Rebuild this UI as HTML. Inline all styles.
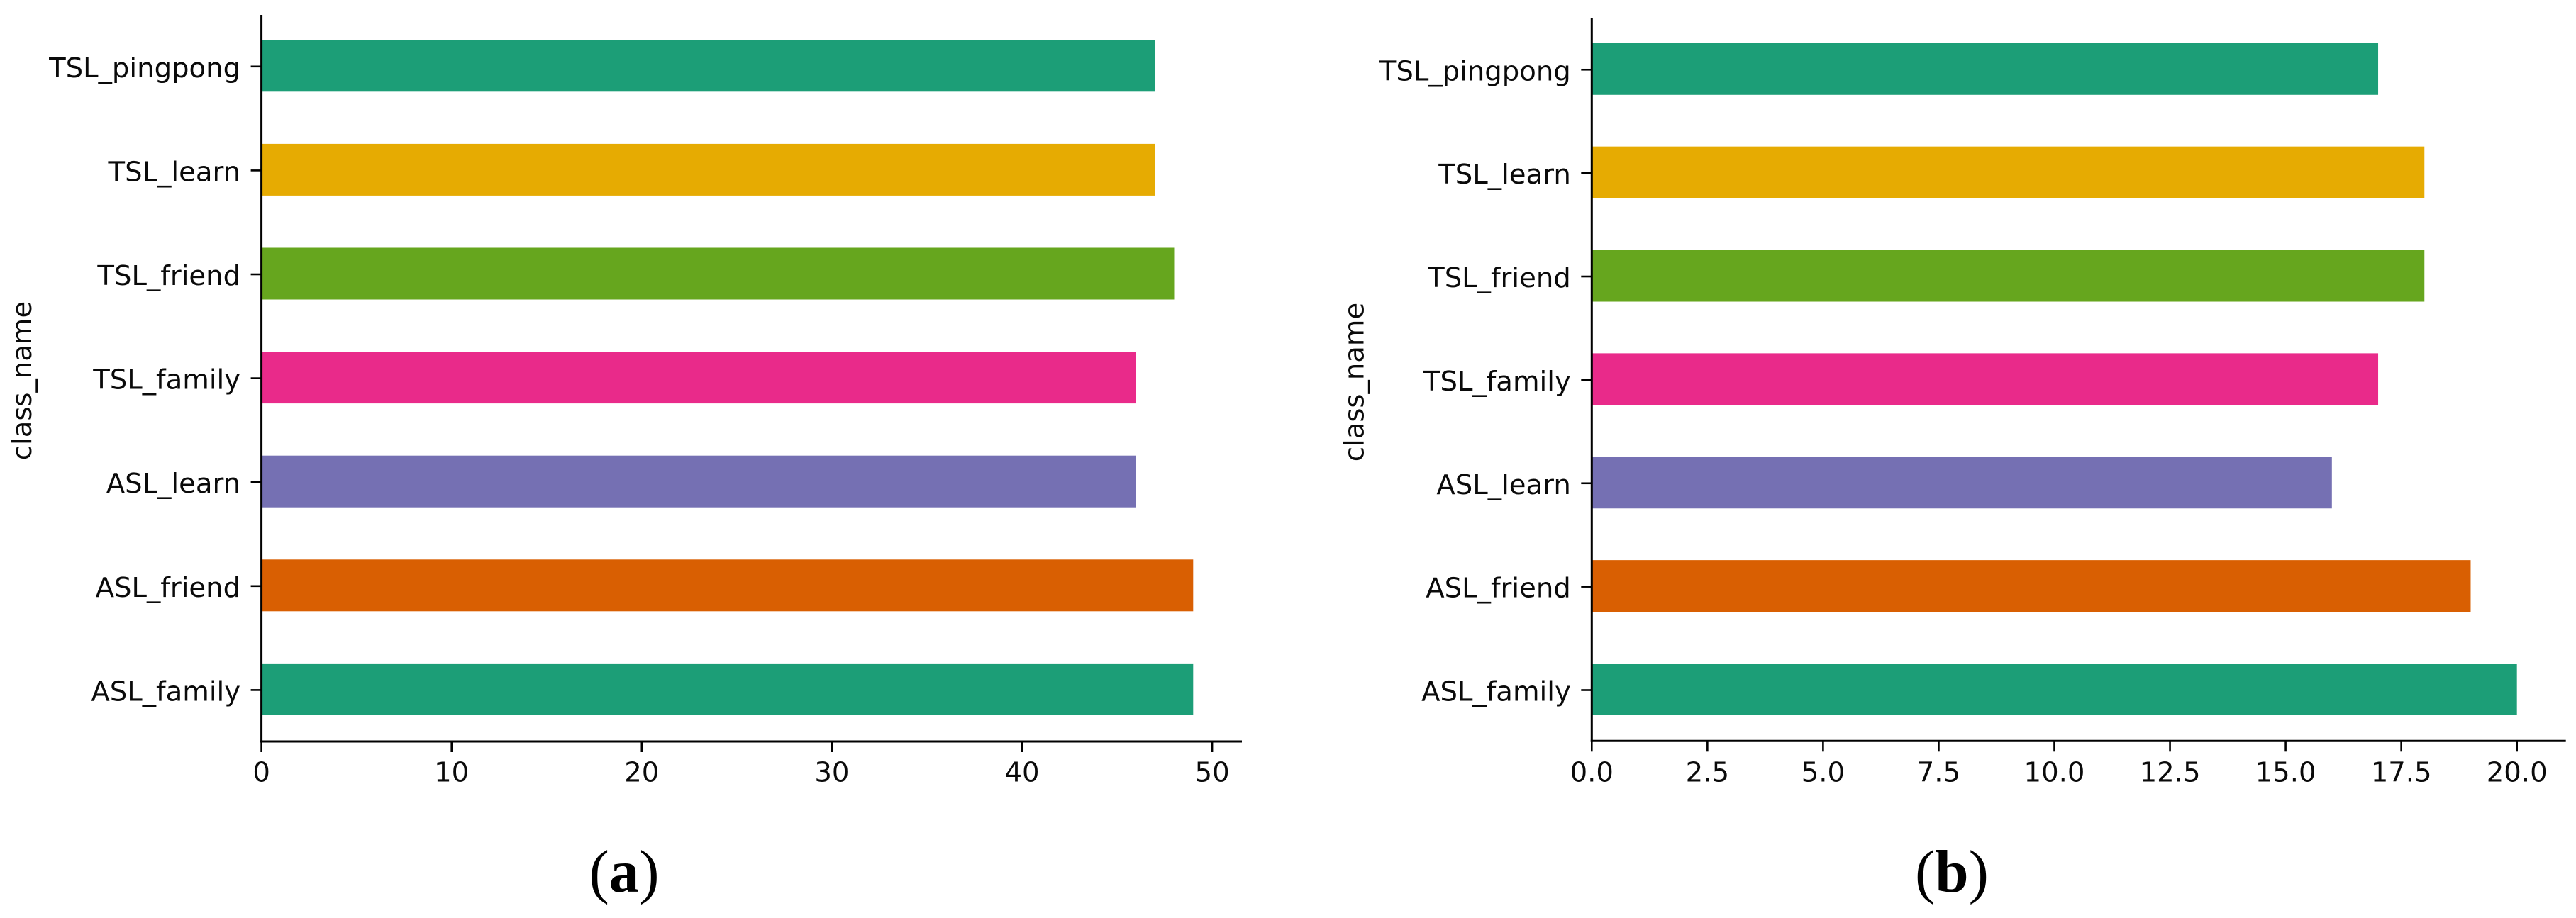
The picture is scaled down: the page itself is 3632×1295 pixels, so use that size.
<!DOCTYPE html>
<html lang="en">
<head>
<meta charset="utf-8">
<title>Class counts per sign-language class</title>
<style>
  html, body { margin: 0; padding: 0; background: #ffffff; }
  body { width: 3632px; height: 1295px; overflow: hidden; }
  svg { display: block; }
  .tick-text { font-family: "DejaVu Sans", "Liberation Sans", sans-serif; font-size: 38.6px; fill: #0a0a0a; }
  .caption { font-family: "Liberation Serif", serif; font-size: 85px; fill: #000; }
</style>
</head>
<body>
<svg id="figure" xmlns="http://www.w3.org/2000/svg" width="3632" height="1295" viewBox="0 0 3632 1295">
  <rect x="0" y="0" width="3632" height="1295" fill="#ffffff"/>
  <g id="chart-a"></g>
  <g id="chart-b"></g>
  <text class="caption" x="880" y="1258" text-anchor="middle">(<tspan font-weight="bold">a</tspan>)</text>
  <text class="caption" x="2752" y="1258" text-anchor="middle">(<tspan font-weight="bold">b</tspan>)</text>
</svg>
<script>
// Chart data
var categories = ["ASL_family", "ASL_friend", "ASL_learn", "TSL_family", "TSL_friend", "TSL_learn", "TSL_pingpong"];
var valuesA = [49, 49, 46, 46, 48, 47, 47];
var valuesB = [20, 19, 16, 17, 18, 18, 17];
var ticksA = [0, 10, 20, 30, 40, 50];
var tickLabelsA = ["0", "10", "20", "30", "40", "50"];
var ticksB = [0, 2.5, 5, 7.5, 10, 12.5, 15, 17.5, 20];
var tickLabelsB = ["0.0", "2.5", "5.0", "7.5", "10.0", "12.5", "15.0", "17.5", "20.0"];
var yAxisTitle = "class_name";

// Colours, bottom category first
var barColors = ["#1c9e77", "#d95f02", "#7570b3", "#e92a8a", "#66a61e", "#e6ab02", "#1c9e77"];

var SVG_NS = "http://www.w3.org/2000/svg";

function makeEl(tag, parent) {
  var el = document.createElementNS(SVG_NS, tag);
  parent.appendChild(el);
  return el;
}

function drawChart(root, values, ticks, tickLabels, layout) {
  function xScale(v) { return layout.x0 + v * layout.pxPerUnit; }
  function yScale(i) { return layout.yBottom - i * layout.pitch; }

  // Bars
  values.forEach(function (v, i) {
    var bar = makeEl("rect", root);
    
    
    bar.setAttribute("x", xScale(0));
    bar.setAttribute("y", yScale(i) - layout.barHeight / 2);
    bar.setAttribute("width", xScale(v) - xScale(0));
    bar.setAttribute("height", layout.barHeight);
    bar.setAttribute("fill", barColors[i]);
  });

  // Y ticks and category labels
  categories.forEach(function (name, i) {
    var y = yScale(i) + 1;
    var tick = makeEl("line", root);
    
    
    tick.setAttribute("x1", layout.x0 - 15);
    tick.setAttribute("x2", layout.x0);
    tick.setAttribute("y1", y);
    tick.setAttribute("y2", y);
    tick.setAttribute("stroke", "#000");
    tick.setAttribute("stroke-width", "2.6");

    var label = makeEl("text", root);
    
    
    label.setAttribute("class", "tick-text");
    label.setAttribute("x", layout.x0 - 29.5);
    label.setAttribute("y", y + 15);
    label.setAttribute("text-anchor", "end");
    label.textContent = name;
  });

  // X ticks and value labels
  ticks.forEach(function (t, i) {
    var x = xScale(t);
    var tick = makeEl("line", root);
    
    
    tick.setAttribute("x1", x);
    tick.setAttribute("x2", x);
    tick.setAttribute("y1", layout.xAxisY);
    tick.setAttribute("y2", layout.xAxisY + 15);
    tick.setAttribute("stroke", "#000");
    tick.setAttribute("stroke-width", "2.6");

    var label = makeEl("text", root);
    
    
    label.setAttribute("class", "tick-text");
    label.setAttribute("x", x);
    label.setAttribute("y", 1102.7);
    label.setAttribute("text-anchor", "middle");
    label.textContent = tickLabels[i];
  });

  // Spines
  var ySpine = makeEl("line", root);
  
  
  ySpine.setAttribute("x1", layout.x0);
  ySpine.setAttribute("x2", layout.x0);
  ySpine.setAttribute("y1", layout.yTop);
  ySpine.setAttribute("y2", layout.xAxisY + 1.5);
  ySpine.setAttribute("stroke", "#000");
  ySpine.setAttribute("stroke-width", "3");

  var xSpine = makeEl("line", root);
  
  
  xSpine.setAttribute("x1", layout.x0 - 1.5);
  xSpine.setAttribute("x2", layout.xEnd);
  xSpine.setAttribute("y1", layout.xAxisY);
  xSpine.setAttribute("y2", layout.xAxisY);
  xSpine.setAttribute("stroke", "#000");
  xSpine.setAttribute("stroke-width", "3");

  // Y axis title
  var title = makeEl("text", root);
  
  
  title.setAttribute("class", "tick-text");
  title.setAttribute("text-anchor", "middle");
  title.setAttribute("transform", "translate(" + layout.titleX + " " + layout.titleY + ") rotate(-90)");
  title.textContent = yAxisTitle;
}

drawChart(document.getElementById("chart-a"), valuesA, ticksA, tickLabelsA, {
  x0: 368.6, pxPerUnit: 26.81, xEnd: 1751, xAxisY: 1046, yTop: 21,
  yBottom: 972.4, pitch: 146.6, barHeight: 73, titleX: 44, titleY: 537
});

drawChart(document.getElementById("chart-b"), valuesB, ticksB, tickLabelsB, {
  x0: 2244.3, pxPerUnit: 65.22, xEnd: 3617.7, xAxisY: 1045.3, yTop: 26,
  yBottom: 972.5, pitch: 145.87, barHeight: 73, titleX: 1922.3, titleY: 539
});
</script>
</body>
</html>
